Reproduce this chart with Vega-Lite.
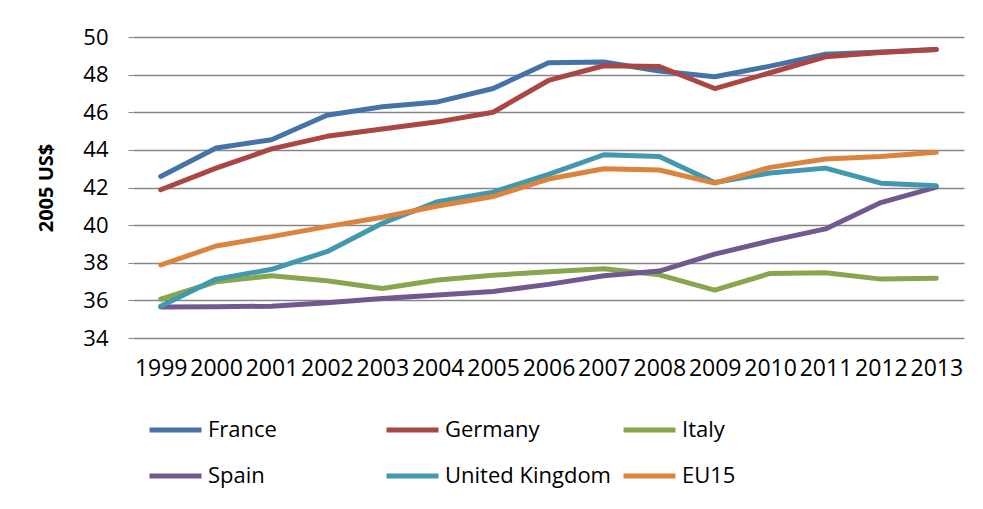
{
  "$schema": "https://vega.github.io/schema/vega-lite/v6.json",
  "width": 831,
  "height": 301,
  "autosize": {"type": "none"},
  "padding": {"left": 133, "top": 37, "right": 19, "bottom": 171},
  "background": "white",
  "config": {
    "view": {"stroke": null},
    "font": "Open Sans"
  },
  "data": {
    "values": [
      {"year": "1999", "country": "France", "value": 42.59},
      {"year": "2000", "country": "France", "value": 44.1},
      {"year": "2001", "country": "France", "value": 44.54},
      {"year": "2002", "country": "France", "value": 45.84},
      {"year": "2003", "country": "France", "value": 46.29},
      {"year": "2004", "country": "France", "value": 46.55},
      {"year": "2005", "country": "France", "value": 47.26},
      {"year": "2006", "country": "France", "value": 48.63},
      {"year": "2007", "country": "France", "value": 48.67},
      {"year": "2008", "country": "France", "value": 48.19},
      {"year": "2009", "country": "France", "value": 47.89},
      {"year": "2010", "country": "France", "value": 48.45},
      {"year": "2011", "country": "France", "value": 49.08},
      {"year": "2012", "country": "France", "value": 49.2},
      {"year": "2013", "country": "France", "value": 49.34},
      {"year": "1999", "country": "Germany", "value": 41.88},
      {"year": "2000", "country": "Germany", "value": 43.03},
      {"year": "2001", "country": "Germany", "value": 44.05},
      {"year": "2002", "country": "Germany", "value": 44.72},
      {"year": "2003", "country": "Germany", "value": 45.11},
      {"year": "2004", "country": "Germany", "value": 45.49},
      {"year": "2005", "country": "Germany", "value": 46.0},
      {"year": "2006", "country": "Germany", "value": 47.69},
      {"year": "2007", "country": "Germany", "value": 48.47},
      {"year": "2008", "country": "Germany", "value": 48.43},
      {"year": "2009", "country": "Germany", "value": 47.26},
      {"year": "2010", "country": "Germany", "value": 48.1},
      {"year": "2011", "country": "Germany", "value": 48.95},
      {"year": "2012", "country": "Germany", "value": 49.17},
      {"year": "2013", "country": "Germany", "value": 49.34},
      {"year": "1999", "country": "Italy", "value": 36.06},
      {"year": "2000", "country": "Italy", "value": 36.99},
      {"year": "2001", "country": "Italy", "value": 37.31},
      {"year": "2002", "country": "Italy", "value": 37.04},
      {"year": "2003", "country": "Italy", "value": 36.63},
      {"year": "2004", "country": "Italy", "value": 37.08},
      {"year": "2005", "country": "Italy", "value": 37.34},
      {"year": "2006", "country": "Italy", "value": 37.52},
      {"year": "2007", "country": "Italy", "value": 37.68},
      {"year": "2008", "country": "Italy", "value": 37.36},
      {"year": "2009", "country": "Italy", "value": 36.54},
      {"year": "2010", "country": "Italy", "value": 37.43},
      {"year": "2011", "country": "Italy", "value": 37.47},
      {"year": "2012", "country": "Italy", "value": 37.13},
      {"year": "2013", "country": "Italy", "value": 37.17},
      {"year": "1999", "country": "Spain", "value": 35.65},
      {"year": "2000", "country": "Spain", "value": 35.66},
      {"year": "2001", "country": "Spain", "value": 35.69},
      {"year": "2002", "country": "Spain", "value": 35.87},
      {"year": "2003", "country": "Spain", "value": 36.1},
      {"year": "2004", "country": "Spain", "value": 36.28},
      {"year": "2005", "country": "Spain", "value": 36.47},
      {"year": "2006", "country": "Spain", "value": 36.85},
      {"year": "2007", "country": "Spain", "value": 37.31},
      {"year": "2008", "country": "Spain", "value": 37.56},
      {"year": "2009", "country": "Spain", "value": 38.46},
      {"year": "2010", "country": "Spain", "value": 39.16},
      {"year": "2011", "country": "Spain", "value": 39.8},
      {"year": "2012", "country": "Spain", "value": 41.2},
      {"year": "2013", "country": "Spain", "value": 42.02},
      {"year": "1999", "country": "United Kingdom", "value": 35.69},
      {"year": "2000", "country": "United Kingdom", "value": 37.13},
      {"year": "2001", "country": "United Kingdom", "value": 37.65},
      {"year": "2002", "country": "United Kingdom", "value": 38.59},
      {"year": "2003", "country": "United Kingdom", "value": 40.1},
      {"year": "2004", "country": "United Kingdom", "value": 41.25},
      {"year": "2005", "country": "United Kingdom", "value": 41.75},
      {"year": "2006", "country": "United Kingdom", "value": 42.7},
      {"year": "2007", "country": "United Kingdom", "value": 43.74},
      {"year": "2008", "country": "United Kingdom", "value": 43.65},
      {"year": "2009", "country": "United Kingdom", "value": 42.27},
      {"year": "2010", "country": "United Kingdom", "value": 42.77},
      {"year": "2011", "country": "United Kingdom", "value": 43.03},
      {"year": "2012", "country": "United Kingdom", "value": 42.23},
      {"year": "2013", "country": "United Kingdom", "value": 42.09},
      {"year": "1999", "country": "EU15", "value": 37.88},
      {"year": "2000", "country": "EU15", "value": 38.89},
      {"year": "2001", "country": "EU15", "value": 39.39},
      {"year": "2002", "country": "EU15", "value": 39.92},
      {"year": "2003", "country": "EU15", "value": 40.42},
      {"year": "2004", "country": "EU15", "value": 41.02},
      {"year": "2005", "country": "EU15", "value": 41.52},
      {"year": "2006", "country": "EU15", "value": 42.45},
      {"year": "2007", "country": "EU15", "value": 43.0},
      {"year": "2008", "country": "EU15", "value": 42.93},
      {"year": "2009", "country": "EU15", "value": 42.23},
      {"year": "2010", "country": "EU15", "value": 43.07},
      {"year": "2011", "country": "EU15", "value": 43.51},
      {"year": "2012", "country": "EU15", "value": 43.65},
      {"year": "2013", "country": "EU15", "value": 43.87}
    ]
  },
  "mark": {"type": "line", "strokeWidth": 5, "strokeCap": "round", "strokeJoin": "round"},
  "encoding": {
    "x": {
      "field": "year",
      "type": "ordinal",
      "scale": {"type": "point", "padding": 0.5},
      "axis": {
        "title": null,
        "labelAngle": 0,
        "labelFontSize": 23,
        "labelColor": "#000000",
        "labelOverlap": false,
        "labelPadding": 19,
        "ticks": false,
        "domain": false,
        "grid": false
      }
    },
    "y": {
      "field": "value",
      "type": "quantitative",
      "scale": {"domain": [34, 50], "nice": false, "zero": false},
      "axis": {
        "title": "2005 US$",
        "titleFontSize": 20,
        "titleFontWeight": "bold",
        "titleColor": "#000000",
        "titlePadding": 26,
        "values": [34, 36, 38, 40, 42, 44, 46, 48, 50],
        "labelFontSize": 22,
        "labelColor": "#000000",
        "labelPadding": 20,
        "tickSize": 5,
        "tickColor": "#868686",
        "domain": false,
        "grid": true,
        "gridColor": "#868686",
        "gridWidth": 1.3
      }
    },
    "color": {
      "field": "country",
      "type": "nominal",
      "sort": null,
      "scale": {
        "domain": ["France", "Germany", "Italy", "Spain", "United Kingdom", "EU15"],
        "range": ["#4572A7", "#AA4643", "#89A54E", "#71588F", "#4198AF", "#DB843D"]
      },
      "legend": {
        "title": null,
        "orient": "none",
        "legendX": 14,
        "legendY": 381,
        "direction": "horizontal",
        "columns": 3,
        "gridAlign": "all",
        "symbolType": "stroke",
        "symbolSize": 2700,
        "symbolStrokeWidth": 5,
        "labelFontSize": 22,
        "labelColor": "#000000",
        "labelOffset": 4,
        "labelLimit": 300,
        "clipHeight": 24,
        "rowPadding": 22,
        "columnPadding": 10
      }
    }
  }
}
